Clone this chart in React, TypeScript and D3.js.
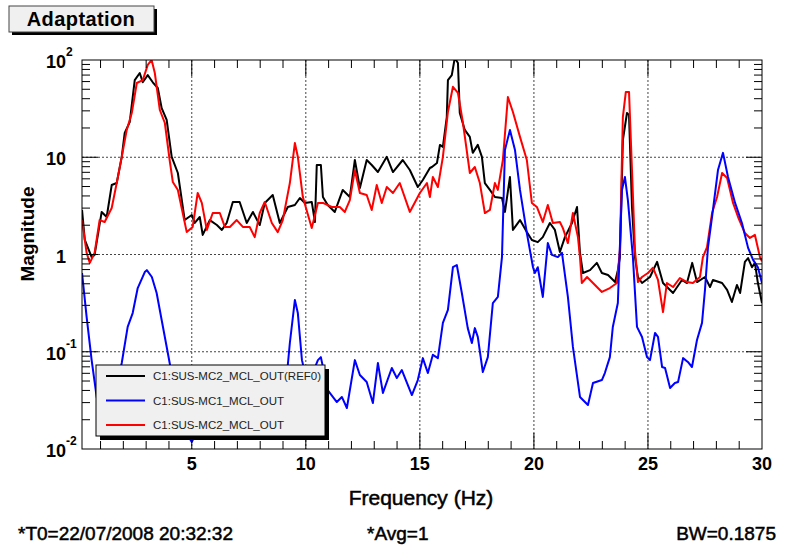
import React, { useRef, useEffect } from 'react';
import * as d3 from 'd3';

// C1:SUS-MC2_MCL_OUT(REF0)
const refFreq = [0.19, 0.31, 0.61, 0.74, 1.05, 1.27, 1.49, 1.71, 1.93, 2.06, 2.28, 2.5, 2.72, 2.85, 3.07, 3.29, 3.51, 3.68, 3.9, 4.12, 4.39, 4.69, 5.0, 5.13, 5.35, 5.48, 5.79, 6.1, 6.32, 6.53, 6.8, 7.1, 7.41, 7.68, 7.98, 8.2, 8.55, 8.86, 9.21, 9.52, 9.74, 9.96, 10.26, 10.4, 10.48, 10.66, 10.75, 10.96, 11.27, 11.62, 11.93, 12.15, 12.37, 12.67, 12.89, 13.16, 13.55, 13.82, 14.25, 14.56, 14.91, 15.13, 15.44, 15.53, 15.75, 15.88, 16.01, 16.18, 16.23, 16.4, 16.53, 16.67, 16.75, 16.97, 17.19, 17.32, 17.54, 17.72, 17.85, 18.07, 18.29, 18.6, 18.73, 18.95, 19.08, 19.39, 19.69, 19.91, 20.17, 20.39, 20.7, 20.92, 21.14, 21.36, 21.67, 21.89, 22.02, 22.15, 22.46, 22.76, 22.98, 23.25, 23.56, 23.68, 23.77, 23.9, 24.08, 24.17, 24.3, 24.43, 24.56, 24.74, 25.09, 25.4, 25.66, 26.1, 26.49, 26.71, 26.94, 27.15, 27.5, 27.72, 27.85, 28.25, 28.47, 28.68, 28.9, 29.04, 29.25, 29.39, 29.56, 29.69, 29.82, 30.0];
const refMag = [2.87, 1.41, 0.94, 0.99, 2.74, 2.43, 5.18, 5.43, 10.1, 17.8, 23.0, 62, 73.5, 59, 70, 59, 51.5, 32, 24.2, 10.1, 6.89, 2.26, 2.55, 2.11, 2.43, 1.59, 2.26, 2.01, 1.79, 2.11, 3.47, 3.47, 2.11, 2.74, 2.01, 3.39, 4.09, 2.11, 3.08, 3.23, 3.81, 3.39, 3.47, 2.16, 8.33, 8.33, 3.9, 3.23, 2.74, 4.61, 3.9, 9.37, 4.83, 9.37, 8.33, 7.05, 10.1, 7.05, 9.37, 7.39, 4.94, 5.84, 7.75, 7.94, 8.73, 13.4, 12.8, 25.9, 62, 70, 105, 93, 28.5, 19.1, 16.2, 11.1, 13.4, 10.1, 5.43, 4.61, 3.9, 3.81, 2.74, 6.27, 1.79, 2.26, 1.7, 1.41, 1.34, 1.51, 2.11, 1.79, 1.06, 1.51, 2.11, 3.08, 1.04, 0.645, 0.69, 0.82, 0.645, 0.615, 0.521, 0.69, 0.94, 15.0, 28.5, 27.2, 3.08, 0.94, 0.587, 0.509, 0.587, 0.84, 0.509, 0.402, 0.547, 0.509, 0.82, 0.521, 0.587, 0.463, 0.547, 0.509, 0.432, 0.325, 0.486, 0.402, 0.84, 0.92, 0.74, 0.82, 0.509, 0.317];

// C1:SUS-MC1_MCL_OUT
const mc1Freq = [0.19, 0.39, 0.61, 0.83, 1.05, 1.4, 1.71, 1.93, 2.19, 2.41, 2.63, 2.94, 3.03, 3.25, 3.46, 3.68, 3.95, 4.25, 4.69, 5.0, 5.35, 6.01, 7.1, 7.98, 8.86, 9.21, 9.3, 9.52, 9.65, 9.83, 10.09, 10.53, 10.66, 10.96, 11.36, 11.58, 11.8, 12.15, 12.37, 12.67, 12.94, 13.16, 13.38, 13.77, 13.99, 14.21, 14.65, 14.91, 15.13, 15.35, 15.57, 15.79, 16.01, 16.23, 16.45, 16.62, 16.84, 17.1, 17.28, 17.41, 17.54, 17.76, 17.98, 18.2, 18.42, 18.6, 18.73, 18.95, 19.17, 19.39, 19.69, 19.96, 20.04, 20.17, 20.39, 20.61, 20.79, 21.05, 21.23, 21.49, 21.71, 22.02, 22.15, 22.37, 22.59, 22.98, 23.11, 23.33, 23.46, 23.68, 23.86, 23.99, 24.12, 24.34, 24.52, 24.74, 24.96, 25.09, 25.31, 25.44, 25.62, 25.75, 25.97, 26.18, 26.32, 26.54, 26.75, 26.93, 27.15, 27.37, 27.5, 27.63, 27.85, 28.07, 28.29, 28.51, 28.82, 29.12, 29.39, 29.61, 29.82, 30.0];
const mc1Mag = [0.645, 0.228, 0.082, 0.0343, 0.0177, 0.0199, 0.0455, 0.0766, 0.18, 0.25, 0.452, 0.66, 0.69, 0.587, 0.402, 0.212, 0.097, 0.0404, 0.0157, 0.0118, 0.0177, 0.0252, 0.0224, 0.0283, 0.0359, 0.0731, 0.123, 0.34, 0.25, 0.082, 0.0455, 0.082, 0.088, 0.0404, 0.0304, 0.0343, 0.0264, 0.082, 0.0577, 0.0489, 0.0297, 0.0766, 0.0377, 0.0681, 0.0537, 0.0649, 0.0359, 0.0512, 0.086, 0.0604, 0.093, 0.086, 0.198, 0.269, 0.74, 0.78, 0.402, 0.175, 0.123, 0.175, 0.142, 0.0619, 0.088, 0.317, 0.366, 0.94, 11.9, 19.1, 11.9, 4.61, 1.66, 0.74, 0.645, 0.74, 0.366, 1.31, 0.99, 0.94, 1.04, 0.366, 0.112, 0.0343, 0.0319, 0.0283, 0.0477, 0.0512, 0.0604, 0.088, 0.18, 0.317, 4.61, 6.27, 3.63, 0.94, 0.18, 0.142, 0.088, 0.082, 0.156, 0.142, 0.0697, 0.0681, 0.0424, 0.0477, 0.0489, 0.086, 0.0785, 0.0697, 0.132, 0.198, 0.432, 1.17, 2.87, 7.39, 11.1, 6.27, 3.39, 2.11, 1.17, 0.88, 0.74, 0.509];

// C1:SUS-MC2_MCL_OUT
const mc2Freq = [0.19, 0.39, 0.53, 0.74, 0.96, 1.18, 1.49, 1.71, 1.93, 2.15, 2.37, 2.59, 2.85, 3.07, 3.24, 3.38, 3.6, 3.82, 4.03, 4.17, 4.39, 4.78, 5.04, 5.26, 5.44, 5.66, 5.92, 6.23, 6.45, 6.67, 6.97, 7.24, 7.54, 7.76, 7.98, 8.2, 8.51, 8.77, 8.99, 9.3, 9.52, 9.65, 9.87, 10.26, 10.53, 10.75, 11.14, 11.49, 11.71, 11.93, 12.15, 12.37, 12.67, 12.89, 13.11, 13.33, 13.55, 13.82, 14.12, 14.56, 15.0, 15.31, 15.44, 15.57, 15.79, 16.01, 16.23, 16.45, 16.67, 16.89, 17.19, 17.41, 17.63, 17.85, 18.07, 18.29, 18.42, 18.64, 18.86, 19.08, 19.39, 19.69, 19.91, 20.13, 20.39, 20.61, 20.83, 21.14, 21.27, 21.49, 21.71, 21.93, 22.02, 22.1, 22.33, 22.59, 22.98, 23.33, 23.64, 23.77, 23.9, 24.03, 24.17, 24.3, 24.43, 24.56, 24.74, 25.0, 25.22, 25.44, 25.66, 25.83, 26.1, 26.4, 26.71, 26.97, 27.28, 27.41, 27.59, 27.81, 28.03, 28.25, 28.47, 28.73, 28.95, 29.25, 29.47, 29.69, 29.91, 30.0];
const mc2Mag = [2.26, 1.04, 0.82, 1.04, 2.26, 2.16, 3.01, 5.43, 10.1, 19.1, 28.5, 58, 62, 89, 100, 73.5, 30.6, 22.5, 9.37, 5.56, 4.61, 1.7, 1.92, 4.29, 3.39, 1.79, 2.67, 2.67, 1.92, 1.92, 2.26, 1.92, 1.92, 1.51, 2.67, 3.47, 2.11, 1.7, 2.26, 5.43, 14.0, 10.1, 3.9, 1.87, 3.39, 3.39, 3.08, 3.08, 2.74, 3.63, 7.39, 4.29, 4.09, 2.87, 5.18, 3.39, 4.94, 4.29, 5.43, 2.74, 4.29, 5.43, 3.9, 6.27, 4.94, 10.1, 29.2, 53, 45.8, 22.5, 6.89, 7.94, 5.43, 2.67, 2.87, 5.43, 4.61, 9.37, 41.7, 29.2, 16.2, 9.37, 3.39, 3.08, 2.16, 3.23, 2.11, 2.16, 1.87, 1.31, 2.67, 1.51, 0.94, 0.509, 0.587, 0.509, 0.412, 0.452, 0.509, 1.11, 25.9, 47, 47, 7.39, 1.11, 0.521, 0.587, 0.645, 0.73, 0.547, 0.256, 0.509, 0.463, 0.573, 0.521, 0.509, 0.587, 0.94, 1.19, 2.67, 3.9, 6.89, 6.12, 3.39, 2.43, 1.66, 1.48, 1.59, 0.94, 0.85];

const seriesNames = ['C1:SUS-MC2_MCL_OUT(REF0)', 'C1:SUS-MC1_MCL_OUT', 'C1:SUS-MC2_MCL_OUT'];
const seriesColors = ['#000000', '#0000ff', '#ff0000'];

const xTickValues = [5, 10, 15, 20, 25, 30];
const xGridValues = [5, 10, 15, 20, 25];
const yTickValues = [0.01, 0.1, 1, 10, 100];
const yTickBase = ['10', '10', '1', '10', '10'];
const yTickExp = ['-2', '-1', '', '', '2'];

const footerLeft = '*T0=22/07/2008 20:32:32';
const footerMid = '*Avg=1';
const footerRight = 'BW=0.1875';

const FONT = "'Liberation Sans', Arial, Helvetica, sans-serif";

const AdaptationChart = () => {
    const svgRef = useRef<SVGSVGElement>(null);

    useEffect(() => {
        const svg = d3.select(svgRef.current);
        svg.selectAll("*").remove();

        const width = 788;
        const height = 548;
        const left = 82, right = 762, top = 60, bottom = 449;

        svg.append("rect").attr("width", width).attr("height", height).attr("fill", "#fff");

        const x = d3.scaleLinear().domain([0.1875, 30]).range([left, right]);
        const y = d3.scaleLog().domain([0.01, 100]).range([bottom, top]);

        // title box
        svg.append("rect").attr("x", 12).attr("y", 9).attr("width", 145).attr("height", 26).attr("fill", "#000");
        svg.append("rect").attr("x", 9).attr("y", 6).attr("width", 145).attr("height", 26)
            .attr("fill", "#f0f0f0").attr("stroke", "#444").attr("stroke-width", 1);
        svg.append("text").attr("x", 81).attr("y", 26).attr("text-anchor", "middle")
            .attr("font-family", FONT).attr("font-weight", "bold").attr("font-size", 20)
            .attr("letter-spacing", 0.4)
            .text("Adaptation");

        // grid
        const grid = svg.append("g").attr("stroke", "#444").attr("stroke-width", 1).attr("stroke-dasharray", "2,2");
        xGridValues.forEach(v => {
            grid.append("line").attr("x1", x(v)).attr("x2", x(v)).attr("y1", top).attr("y2", bottom);
        });
        [0.1, 1, 10].forEach(v => {
            grid.append("line").attr("x1", left).attr("x2", right).attr("y1", y(v)).attr("y2", y(v));
        });

        // curves
        svg.append("clipPath").attr("id", "plotclip").append("rect")
            .attr("x", left).attr("y", top).attr("width", right - left).attr("height", bottom - top);
        const line = d3.line<[number, number]>().x(d => x(d[0])).y(d => y(d[1]));
        const series = [
            d3.zip(refFreq, refMag),
            d3.zip(mc1Freq, mc1Mag),
            d3.zip(mc2Freq, mc2Mag),
        ];
        const curves = svg.append("g").attr("clip-path", "url(#plotclip)");
        [0, 2, 1].forEach(i => {
            curves.append("path")
                .attr("d", line(series[i] as [number, number][]))
                .attr("fill", "none")
                .attr("stroke", seriesColors[i])
                .attr("stroke-width", 2)
                .attr("stroke-linejoin", "round");
        });

        // frame and ticks
        const axes = svg.append("g").attr("stroke", "#000").attr("stroke-width", 1);
        axes.append("rect").attr("x", left).attr("y", top).attr("width", right - left).attr("height", bottom - top)
            .attr("fill", "none");
        d3.range(1, 30).forEach(v => {
            const len = v % 5 === 0 ? 16 : 8;
            axes.append("line").attr("x1", x(v)).attr("x2", x(v)).attr("y1", bottom).attr("y2", bottom - len);
            axes.append("line").attr("x1", x(v)).attr("x2", x(v)).attr("y1", top).attr("y2", top + len);
        });
        [0.01, 0.1, 1, 10].forEach(dec => {
            d3.range(1, 10).forEach(k => {
                const v = dec * k;
                if (v <= 0.01 || v >= 100) return;
                const len = k === 1 ? 16 : 8;
                axes.append("line").attr("x1", left).attr("x2", left + len).attr("y1", y(v)).attr("y2", y(v));
                axes.append("line").attr("x1", right).attr("x2", right - len).attr("y1", y(v)).attr("y2", y(v));
            });
        });

        // x tick labels
        svg.append("g").selectAll("text").data(xTickValues).join("text")
            .attr("x", d => x(d)).attr("y", 470).attr("text-anchor", "middle")
            .attr("font-family", FONT).attr("font-weight", "bold").attr("font-size", 18)
            .text(d => d);

        // y tick labels
        yTickValues.forEach((v, i) => {
            svg.append("text").attr("x", 66).attr("y", y(v) + 8).attr("text-anchor", "end")
                .attr("font-family", FONT).attr("font-weight", "bold").attr("font-size", 18)
                .text(yTickBase[i]);
            if (yTickExp[i]) {
                svg.append("text").attr("x", 66).attr("y", y(v) - 4)
                    .attr("font-family", FONT).attr("font-weight", "bold").attr("font-size", 12)
                    .text(yTickExp[i]);
            }
        });

        // axis titles
        svg.append("text").attr("transform", "translate(34,234) rotate(-90)").attr("text-anchor", "middle")
            .attr("font-family", FONT).attr("font-weight", "bold").attr("font-size", 19)
            .text("Magnitude");
        svg.append("text").attr("x", 421).attr("y", 505).attr("text-anchor", "middle")
            .attr("font-family", FONT).attr("font-size", 21)
            .attr("stroke", "#000").attr("stroke-width", 0.5)
            .text("Frequency (Hz)");

        // legend
        const lg = svg.append("g");
        lg.append("rect").attr("x", 100).attr("y", 369).attr("width", 229).attr("height", 71).attr("fill", "#000");
        lg.append("rect").attr("x", 96).attr("y", 365).attr("width", 229).attr("height", 71)
            .attr("fill", "#f0f0f0").attr("stroke", "#000").attr("stroke-width", 1);
        seriesNames.forEach((name, i) => {
            const ly = 376 + i * 24.5;
            lg.append("line").attr("x1", 106).attr("x2", 145).attr("y1", ly).attr("y2", ly)
                .attr("stroke", seriesColors[i]).attr("stroke-width", 2);
            lg.append("text").attr("x", 153).attr("y", ly + 4)
                .attr("font-family", FONT).attr("font-size", 11.5).attr("fill", "#222")
                .text(name);
        });

        // footer
        const footer = svg.append("g").attr("font-family", FONT).attr("font-size", 19)
            .attr("stroke", "#000").attr("stroke-width", 0.5);
        footer.append("text").attr("x", 18).attr("y", 540).text(footerLeft);
        footer.append("text").attr("x", 367).attr("y", 540).text(footerMid);
        footer.append("text").attr("x", 776).attr("y", 540).attr("text-anchor", "end").text(footerRight);
    }, []);

    return <svg ref={svgRef} width={788} height={548} style={{ position: 'absolute', left: 0, top: 0 }}></svg>;
};

export default function App() {
    return <AdaptationChart />;
}
